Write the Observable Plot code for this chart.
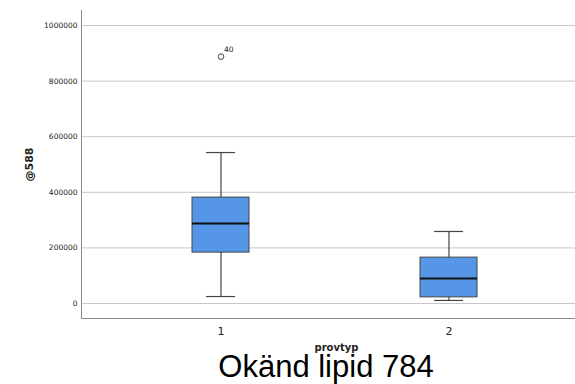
<!DOCTYPE html>
<html>
<head>
<meta charset="utf-8">
<script src="https://cdn.jsdelivr.net/npm/d3@7"></script>
<script src="https://cdn.jsdelivr.net/npm/@observablehq/plot@0.6"></script>
<style>
  body { margin: 0; background: #fff; }
  #wrap { position: relative; width: 575px; height: 384px; overflow: hidden; }
  #title { position: absolute; left: 0; width: 652px; top: 349px; text-align: center; line-height: normal;
           font-family: "Liberation Sans", Arial, sans-serif; font-size: 31px; color: #000; }
  svg g[aria-label="y-axis label"] text { font-weight: bold; font-size: 11px; }
</style>
</head>
<body>
<div id="wrap"><div id="chart"></div><div id="title">Okänd lipid 784</div></div>
<script>
const categories = ["1", "2"];
const whiskerLow = [25000, 11000];
const q1 = [183000, 22000];
const median = [288000, 90000];
const q3 = [381000, 165000];
const whiskerHigh = [543000, 259000];
const outlierCategory = ["1"];
const outlierValue = [888000];
const outlierLabel = ["40"];
const yTicks = [0, 200000, 400000, 600000, 800000, 1000000];
const xLabel = ["provtyp"];

const boxes = categories.map((c, i) => ({
  provtyp: c, lo: whiskerLow[i], q1: q1[i], med: median[i], q3: q3[i], hi: whiskerHigh[i]
}));
const outliers = outlierCategory.map((c, i) => ({provtyp: c, v: outlierValue[i], label: outlierLabel[i]}));

const edge = "#444";
const chart = Plot.plot({
  width: 575,
  height: 384,
  marginLeft: 81,
  marginRight: 0,
  marginTop: 10,
  marginBottom: 66,
  style: {fontFamily: "'DejaVu Sans', sans-serif", background: "#fff"},
  x: {type: "band", domain: categories, paddingInner: 0.75, paddingOuter: 0.458, align: 0.533},
  y: {domain: [-54000, 1054000]},
  marks: [
    Plot.gridY(yTicks, {stroke: "#c8c8c8", strokeOpacity: 1, strokeWidth: 1}),
    Plot.axisY(yTicks, {tickSize: 0, tickPadding: 4, fontSize: 7.5, tickFormat: d3.format("d"),
      label: "@588", labelAnchor: "center", labelArrow: "none", labelOffset: 56, fill: "#222"}),
    Plot.axisX({tickSize: 0, tickPadding: 9, fontSize: 11, label: null, fill: "#222"}),
    Plot.text(xLabel, {text: d => d, frameAnchor: "bottom", dx: 8, dy: 32, fontSize: 10, fontWeight: "bold", fill: "#222"}),
    Plot.frame({anchor: "left", stroke: "#888"}),
    Plot.frame({anchor: "bottom", stroke: "#888"}),
    Plot.ruleX(boxes, {x: "provtyp", y1: "lo", y2: "hi", stroke: edge, strokeWidth: 1.2}),
    Plot.tickY(boxes, {x: "provtyp", y: "lo", stroke: edge, strokeWidth: 1.2, inset: 14}),
    Plot.tickY(boxes, {x: "provtyp", y: "hi", stroke: edge, strokeWidth: 1.2, inset: 14}),
    Plot.barY(boxes, {x: "provtyp", y1: "q1", y2: "q3", fill: "#5596e6", stroke: edge, strokeWidth: 1}),
    Plot.tickY(boxes, {x: "provtyp", y: "med", stroke: "#111", strokeWidth: 2}),
    Plot.dot(outliers, {x: "provtyp", y: "v", r: 2.8, stroke: edge, fill: "#fff", strokeWidth: 1}),
    Plot.text(outliers, {x: "provtyp", y: "v", text: "label", dx: 3, dy: -7, textAnchor: "start", fontSize: 7.5, fill: "#222"})
  ]
});
document.getElementById("chart").appendChild(chart);
</script>
</body>
</html>
